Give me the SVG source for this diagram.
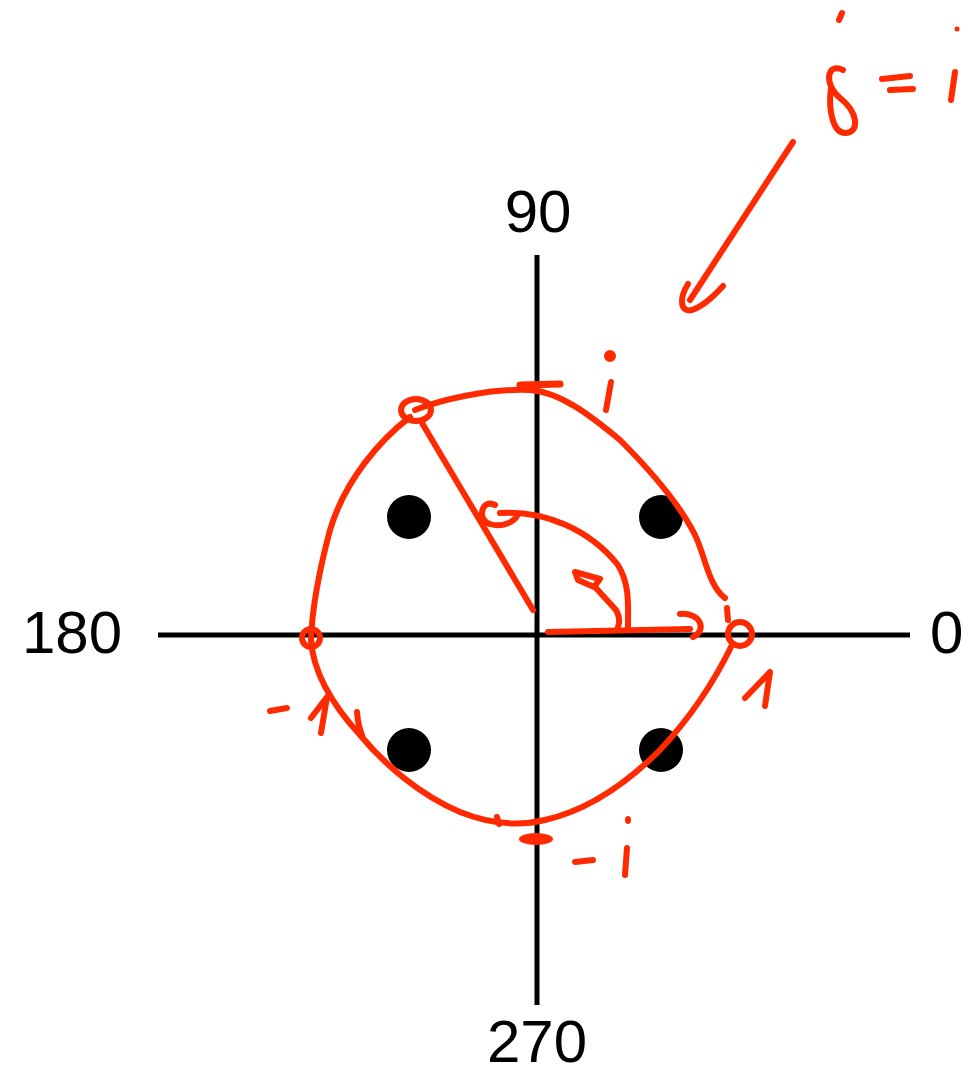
<svg xmlns="http://www.w3.org/2000/svg" width="975" height="1076" viewBox="0 0 975 1076">
<style>
.ax{stroke:#000;stroke-width:5;fill:none}
.lbl{font-family:"Liberation Sans",Arial,sans-serif;font-size:60px;fill:#000}
.r{stroke:#ff2a00;stroke-width:6;fill:none;stroke-linecap:round;stroke-linejoin:round}
.rf{fill:#ff2a00}
</style>
<rect width="975" height="1076" fill="#fff"/>
<g id="axes">
<line class="ax" x1="537" y1="255" x2="537" y2="1005"/>
<line class="ax" x1="158" y1="635" x2="910" y2="635"/>
<text class="lbl" x="538" y="232" text-anchor="middle">90</text>
<text class="lbl" x="537" y="1062" text-anchor="middle">270</text>
<text class="lbl" x="22" y="653">180</text>
<text class="lbl" x="930" y="653">0</text>
</g>
<g id="dots">
<circle cx="409" cy="517" r="22"/>
<circle cx="661" cy="517" r="22"/>
<circle cx="409" cy="750" r="22"/>
<circle cx="661" cy="750" r="22"/>
</g>
<g id="annotations">
<path class="r" d="M415 410 C440 400 490 388 530 390 C560 392 590 415 620 440 C650 470 680 505 695 535 C705 555 708 585 725 598"/>
<path class="r" d="M727 608 L728 620"/>
<path class="r" d="M410 417 C380 440 345 480 330 530 C318 575 312 610 311 640 C313 670 328 700 360 735 C385 765 420 795 460 812 C490 824 520 826 545 820 C580 812 620 790 660 750 C690 718 715 680 732 645"/>
<path class="r" d="M520 385 L560 384" style="stroke-width:7"/>
<ellipse class="r" cx="416" cy="410" rx="15" ry="11"/>
<circle class="r" cx="311" cy="638" r="9"/>
<circle class="r" cx="740" cy="634" r="12"/>
<path class="r" d="M422 423 L533 610"/>
<path class="r" d="M495 505 C482 498 476 520 490 524 C502 528 515 522 518 514"/>
<path class="r" d="M500 513 C545 510 590 530 618 565 C630 585 628 605 628 628"/>
<path class="r" d="M575 572 L600 579 L594 587 L578 580 Z M595 587 L616 610 C620 617 620 622 618 627"/>
<path class="r" d="M548 632 L690 629"/>
<path class="r" d="M680 614 C700 612 708 630 693 637"/>
<path class="r" d="M497 817 L499 824"/>
<ellipse class="rf" cx="536" cy="839" rx="17" ry="6"/>
<path class="r" d="M575 862 L593 860"/>
<ellipse class="rf" cx="628" cy="820" rx="3" ry="4"/>
<path class="r" d="M627 848 L625 875"/>
<ellipse class="r" cx="610" cy="356" rx="3" ry="3"/>
<path class="r" d="M611 382 L606 410"/>
<path class="r" d="M270 711 L287 708"/>
<path class="r" d="M311 718 L327 697 L321 733"/>
<path class="r" d="M357 712 Q358 725 362 735"/>
<path class="r" d="M745 698 L770 672 L765 706"/>
<path class="r" d="M842 13 L839 20"/>
<path class="r" d="M843 70 C826 62 824 85 840 98 C858 112 860 132 846 133 C833 134 828 110 831 88"/>
<path class="r" d="M882 79 L910 76 M890 90 L913 89"/>
<ellipse class="rf" cx="957" cy="29" rx="2.5" ry="2.5"/>
<path class="r" d="M955 72 L951 100"/>
<path class="r" d="M793 142 L690 300"/>
<path class="r" d="M688 284 C679 298 680 313 692 310 C704 306 714 296 723 286"/>
</g>
</svg>
